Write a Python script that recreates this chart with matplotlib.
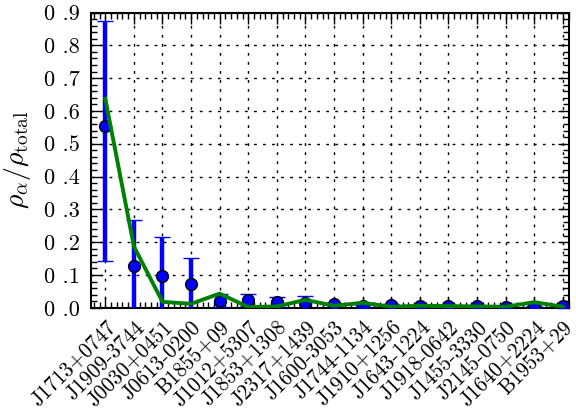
import matplotlib
matplotlib.use("Agg")
import matplotlib.pyplot as plt
from matplotlib.ticker import MultipleLocator, FixedLocator

plt.rcParams['font.family'] = 'serif'
plt.rcParams['font.serif'] = ['cmr10']
plt.rcParams['mathtext.fontset'] = 'cm'
plt.rcParams['axes.unicode_minus'] = False

pulsars = ["J1713+0747", "J1909-3744", "J0030+0451", "J0613-0200", "B1855+09",
           "J1012+5307", "J1853+1308", "J2317+1439", "J1600-3053", "J1744-1134",
           "J1910+1256", "J1643-1224", "J1918-0642", "J1455-3330", "J2145-0750",
           "J1640+2224", "B1953+29"]

# measured fraction with asymmetric errors
rho_meas = [0.553, 0.127, 0.097, 0.072, 0.022, 0.024, 0.018, 0.014, 0.011,
            0.004, 0.007, 0.006, 0.005, 0.004, 0.003, 0.002, 0.004]
err_low = [0.411, 0.142, 0.12, 0.079, 0.021, 0.019, 0.016, 0.022, 0.004,
           0.003, 0.003, 0.003, 0.003, 0.003, 0.003, 0.003, 0.003]
err_high = [0.322, 0.142, 0.12, 0.079, 0.021, 0.019, 0.016, 0.022, 0.004,
            0.003, 0.003, 0.003, 0.003, 0.003, 0.003, 0.003, 0.003]

# expected fraction (green curve)
rho_model = [0.637, 0.187, 0.018, 0.012, 0.043, 0.002, 0.004, 0.024, 0.006,
             0.015, 0.003, 0.006, 0.005, 0.004, 0.003, 0.017, 0.003]

yticks = [0.0, 0.1, 0.2, 0.3, 0.4, 0.5, 0.6, 0.7, 0.8, 0.9]
ytick_labels = ["0.0", "0.1", "0.2", "0.3", "0.4", "0.5", "0.6", "0.7", "0.8", "0.9"]


def main():
    fig = plt.figure(figsize=(5.76, 4.17), dpi=100)
    ax = fig.add_axes([0.158, 0.262, 0.830, 0.708])

    x = list(range(len(pulsars)))

    #errorbars and points
    ax.errorbar(x, rho_meas, yerr=[err_low, err_high], linestyle="None",
                marker="o", markersize=8.5, markerfacecolor="blue",
                markeredgecolor="black", markeredgewidth=1.0,
                ecolor="blue", elinewidth=3.2, capsize=6, capthick=2,
                zorder=3)

    #model line
    ax.plot(x, rho_model, color="green", linewidth=2.8, zorder=4)

    #configure X axes
    ax.set_xlim(-0.5, 16.22)
    ax.xaxis.set_major_locator(FixedLocator(x))
    ax.xaxis.set_minor_locator(MultipleLocator(0.2))
    ax.set_xticklabels(pulsars, rotation=45, ha="right", va="top",
                       rotation_mode="anchor", fontsize=15.2)

    #configure Y axes (old-style spacing before the decimal point)
    ax.set_ylim(0, 0.9)
    ax.set_yticks(yticks)
    ax.set_yticklabels([s.replace(".", " .") for s in ytick_labels], fontsize=16)
    ax.yaxis.set_minor_locator(MultipleLocator(0.02))

    ax.tick_params(which="both", direction="in", top=True, right=True, width=1)
    ax.tick_params(which="major", length=8, pad=8)
    ax.tick_params(which="minor", length=4)
    ax.tick_params(axis="x", which="major", pad=7)

    ax.grid(True, which="major", color="black", linestyle=(0, (2, 4.5)), linewidth=1)
    for s in ax.spines.values():
        s.set_linewidth(1.5)

    #labels
    ax.set_ylabel(r"$\rho_\alpha/\rho_{\rm total}$", fontsize=20, labelpad=8)

    fig.savefig("out.png", dpi=100)


if __name__ == "__main__":
    main()
